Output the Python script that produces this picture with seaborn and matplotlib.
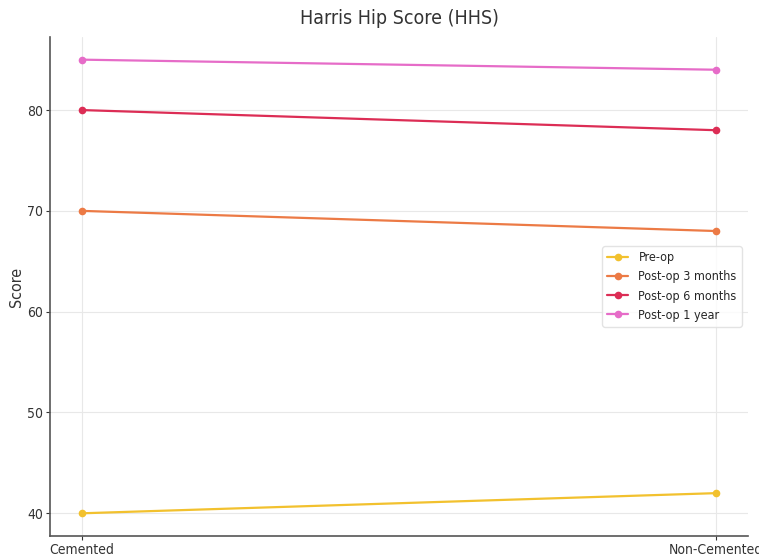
import matplotlib
matplotlib.use("Agg")
import matplotlib.pyplot as plt
import seaborn as sns
import pandas as pd

categories = ["Cemented", "Non-Cemented"]
series_names = ["Pre-op", "Post-op 3 months", "Post-op 6 months", "Post-op 1 year"]
pre_op = [40, 42]
post_3m = [70, 68]
post_6m = [80, 78]
post_1y = [85, 84]
colors = ["#f2c12e", "#ec7a45", "#dc2d55", "#e66cc8"]

rows = []
for name, vals in zip(series_names, [pre_op, post_3m, post_6m, post_1y]):
    for c, v in zip(categories, vals):
        rows.append({"Type": c, "Score": v, "Stage": name})
df = pd.DataFrame(rows)

sns.set_theme(style="whitegrid")
plt.rcParams["font.family"] = ["DejaVu Sans"]
plt.rcParams["font.stretch"] = "condensed"

fig = plt.figure(figsize=(7.59, 5.56), dpi=100)
ax = fig.add_axes([0.0659, 0.036, 0.9196, 0.8975])
sns.lineplot(data=df, x="Type", y="Score", hue="Stage", palette=colors,
             marker="o", markersize=5.5, markeredgewidth=0, linewidth=1.6, ax=ax)
ax.set_title("Harris Hip Score (HHS)", fontsize=14, color="#333333", pad=9)
ax.set_xlabel("")
ax.set_ylabel("Score", fontsize=11.5, color="#333333", labelpad=2)
ax.set_yticks([40, 50, 60, 70, 80])
ax.tick_params(axis="both", labelsize=10, colors="#333333", length=3, width=0.8,
               left=True, bottom=True, pad=2)
ax.grid(True, color="#e8e8e8", linewidth=0.8)
for s in ["top", "right"]:
    ax.spines[s].set_visible(False)
for s in ["left", "bottom"]:
    ax.spines[s].set_color("#555555")
    ax.spines[s].set_linewidth(1.2)
leg = ax.legend(title=None, loc="center right", fontsize=9, frameon=True,
                handlelength=1.7, handletextpad=0.8, borderpad=0.4, labelspacing=0.5)
leg.get_frame().set_edgecolor("#dddddd")
fig.savefig("out.png", dpi=100)
